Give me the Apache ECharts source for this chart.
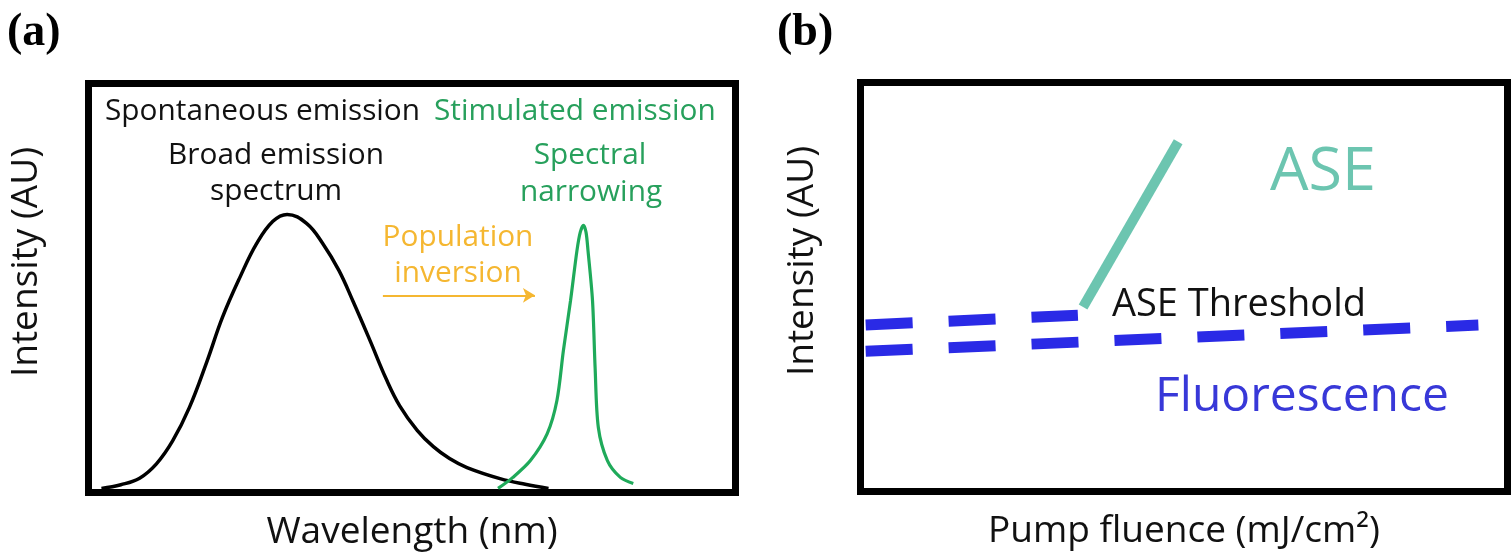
<!DOCTYPE html>
<html>
<head>
<meta charset="utf-8">
<script src="https://cdn.jsdelivr.net/npm/echarts@6/dist/echarts.min.js"></script>
<style>
html,body{margin:0;padding:0;background:#fff;}
#chart{width:1512px;height:560px;}
</style>
</head>
<body>
<div id="chart"></div>
<script>
// ---- Panel (a): spectra (normalized wavelength 0-100, intensity 0-100) ----
const spontaneousSpectrum = [
  [2.0,1.0],[5.0,1.9],[7.9,3.5],[10.5,7.0],[13.0,12.6],[15.6,20.8],[18.3,32.0],[20.7,42.8],
  [23.4,52.6],[26.0,60.9],[28.5,66.3],[30.7,68.0],[33.7,65.8],[36.2,60.9],[38.7,54.3],
  [40.9,46.7],[43.5,37.2],[46.0,27.8],[48.1,21.2],[50.8,15.2],[53.3,11.2],[55.8,8.3],
  [58.5,6.1],[63.6,3.4],[67.5,2.0],[71.1,1.0]
];
const stimulatedSpectrum = [
  [63.3,1.0],[65.6,3.7],[68.3,7.8],[70.9,14.4],[72.4,22.5],[73.4,34.7],[74.5,46.9],
  [75.5,59.2],[76.0,63.6],[76.5,65.3],[76.9,63.6],[77.2,59.2],[77.9,46.9],[78.3,30.6],
  [78.8,15.9],[80.2,7.8],[82.2,3.7],[84.2,2.2]
];
const inversionArrow = [[45.5,48.2],[69.0,48.2]];

// ---- Panel (b): intensity vs pump fluence (normalized 0-100) ----
const fluorescenceLine = [[0.8,34.3],[95.5,40.7]];
const fluorescenceUpper = [[0.8,40.7],[33.6,43.1]];
const aseLine = [[34.4,45.1],[49.1,85.5]];

// ---- Text ----
const panelTitles = ['(a)','(b)'];
const axisNamesA = {x:'Wavelength (nm)', y:'Intensity (AU)'};
const axisNamesB = {x:'Pump fluence (mJ/cm\u00B2)', y:'Intensity (AU)'};

const FONT = "'Open Sans', 'Noto Sans', sans-serif";
const BLACK = '#111111';
const GREEN_TXT = '#27a05c';
const GREEN_LINE = '#1faa5a';
const ORANGE = '#f5b731';
const TEAL = '#6cc5b0';
const BLUE = '#2a2ae6';
const BLUE_TXT = '#3838d8';

const chart = echarts.init(document.getElementById('chart'), null, {renderer:'canvas'});

function hiddenAxis(extra){
  return Object.assign({
    type:'value', min:0, max:100,
    axisLine:{show:false}, axisTick:{show:false}, axisLabel:{show:false}, splitLine:{show:false}
  }, extra);
}
const axisNameStyle = {fontFamily:FONT, fontSize:37, color:BLACK};

function txt(text, x, y, size, color, align, weight, family){
  return {type:'text', x:x, y:y, silent:true,
    style:{text:text, fill:color, font:(weight||'normal')+' '+size+'px '+(family||FONT),
      textAlign:align||'left', textVerticalAlign:'middle'}};
}

const option = {
  animation:false,
  backgroundColor:'#ffffff',
  grid:[
    {left:88.5, top:83.5, width:647, height:409, show:true, borderColor:'#000', borderWidth:7, backgroundColor:'transparent'},
    {left:860.5, top:82.5, width:647, height:409, show:true, borderColor:'#000', borderWidth:7, backgroundColor:'transparent'}
  ],
  xAxis:[
    hiddenAxis({gridIndex:0, name:axisNamesA.x, nameLocation:'middle', nameGap:21, nameTextStyle:axisNameStyle}),
    hiddenAxis({gridIndex:1, name:axisNamesB.x, nameLocation:'middle', nameGap:21, nameTextStyle:axisNameStyle})
  ],
  yAxis:[
    hiddenAxis({gridIndex:0, name:axisNamesA.y, nameLocation:'middle', nameRotate:90, nameGap:44,
      nameTextStyle:Object.assign({padding:[0,0,0,52]}, axisNameStyle)}),
    hiddenAxis({gridIndex:1, name:axisNamesB.y, nameLocation:'middle', nameRotate:90, nameGap:40,
      nameTextStyle:Object.assign({padding:[0,0,0,52]}, axisNameStyle)})
  ],
  series:[
    {type:'line', xAxisIndex:0, yAxisIndex:0, data:spontaneousSpectrum, smooth:0.4, symbol:'none',
      lineStyle:{color:'#000', width:3.5}, z:3,
      markLine:{silent:true, symbol:['none','arrow'], symbolSize:[11,12], label:{show:false},
        lineStyle:{color:ORANGE, width:2, type:'solid'},
        data:[[{coord:inversionArrow[0]},{coord:inversionArrow[1]}]]}},
    {type:'line', xAxisIndex:0, yAxisIndex:0, data:stimulatedSpectrum, smooth:0.3, symbol:'none',
      lineStyle:{color:GREEN_LINE, width:3.2}, z:3},
    {type:'line', xAxisIndex:1, yAxisIndex:1, data:fluorescenceLine, symbol:'none',
      lineStyle:{color:BLUE, width:11, type:[47,36], cap:'butt'}, z:3},
    {type:'line', xAxisIndex:1, yAxisIndex:1, data:fluorescenceUpper, symbol:'none',
      lineStyle:{color:BLUE, width:11, type:[47,36], cap:'butt'}, z:3},
    {type:'line', xAxisIndex:1, yAxisIndex:1, data:aseLine, symbol:'none',
      lineStyle:{color:TEAL, width:10, cap:'butt'}, z:3}
  ],
  graphic:[
    txt(panelTitles[0], 7, 33, 46, '#000', 'left', 'bold', "'Liberation Serif', 'Times New Roman', serif"),
    txt(panelTitles[1], 777, 33, 46, '#000', 'left', 'bold', "'Liberation Serif', 'Times New Roman', serif"),
    txt('Spontaneous emission', 105, 112, 29.8, BLACK, 'left'),
    txt('Stimulated emission', 434, 112, 29.8, GREEN_TXT, 'left'),
    txt('Broad emission', 276, 156, 29.8, BLACK, 'center'),
    txt('spectrum', 276, 192, 29.8, BLACK, 'center'),
    txt('Spectral', 590, 156, 29.8, GREEN_TXT, 'center'),
    txt('narrowing', 591, 193, 29.8, GREEN_TXT, 'center'),
    txt('Population', 458, 238, 29.8, ORANGE, 'center'),
    txt('inversion', 458, 274, 29.8, ORANGE, 'center'),
    txt('ASE', 1270, 173, 61, TEAL, 'left'),
    txt('ASE Threshold', 1112, 305, 38, BLACK, 'left'),
    txt('Fluorescence', 1155, 397, 48, BLUE_TXT, 'left')
  ]
};
chart.setOption(option);
</script>
</body>
</html>
